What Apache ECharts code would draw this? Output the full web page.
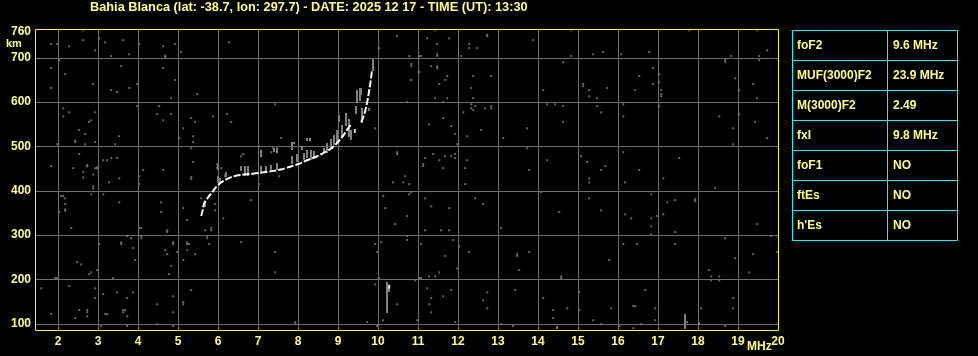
<!DOCTYPE html>
<html>
<head>
<meta charset="utf-8">
<script src="https://cdn.jsdelivr.net/npm/echarts@6/dist/echarts.min.js"></script>
<style>
html,body{margin:0;padding:0;background:#000;}
#chart{width:978px;height:356px;}
</style>
</head>
<body>
<div id="chart"></div>
<script>
// ---------- DATA ----------
const titleText = 'Bahia Blanca (lat: -38.7, lon: 297.7) - DATE: 2025 12 17 - TIME (UT): 13:30';
const xTicks = [2,3,4,5,6,7,8,9,10,11,12,13,14,15,16,17,18,19,20];
const yTicks = [100,200,300,400,500,600,700];
const yLabels = [100,200,300,400,500,600,700,760];
const xUnit = 'MHz';
const yUnit = 'km';

const tableLabels = ['foF2','MUF(3000)F2','M(3000)F2','fxI','foF1','ftEs',"h'Es"];
const tableValues = ['9.6 MHz','23.9 MHz','2.49','9.8 MHz','NO','NO','NO'];

// main ionogram trace (white), frequency MHz / virtual height km
const traceLow = [[5.58,343],[5.62,358],[5.65,371],[5.75,385],[5.83,394],[5.94,407],[6.07,418],[6.23,427],[6.4,433],[6.61,436],[6.82,438],[7.07,441],[7.32,444],[7.57,448],[7.82,455],[8.03,461],[8.23,469],[8.48,478],[8.65,486],[8.82,495],[8.98,508],[9.11,522],[9.23,538],[9.33,550]];
const traceHigh = [[9.58,555],[9.63,566],[9.68,580],[9.72,596],[9.76,615],[9.79,632],[9.82,650],[9.84,665],[9.85,672]];
const whiteDots = [[9.42,535],[10.28,184]];

// gray echo streaks near the trace [f, hLow, hHigh]
const echoStreaks = [[5.67,362,374],[6.0,418,433],[6.05,418,430],[6.0,448,459],[6.2,430,442],[6.58,444,456],[6.67,433,456],[6.75,433,456],[7.07,439,456],[7.08,478,493],[7.19,444,456],[7.32,448,459],[7.48,448,463],[7.4,489,497],[7.48,486,497],[7.86,493,510],[7.86,459,478],[7.98,463,482],[8.1,493,501],[8.15,471,486],[8.23,474,493],[8.32,471,493],[8.4,474,489],[8.23,512,519],[8.65,489,497],[8.73,486,508],[8.82,493,516],[8.9,504,527],[8.98,508,538],[9.02,557,572],[9.11,523,549],[9.19,546,576],[9.27,520,561],[9.32,516,538],[9.45,573,592],[9.55,603,633],[9.48,598,628],[9.57,617,632],[9.61,554,587],[9.78,580,587],[9.87,671,697],[7.9,505,510],[8.3,513,520]];

// noise streaks [f, hLow, hHigh]
const noiseStreaks = [[10.23,125,194],[10.28,171,185],[17.68,88,122],[18.03,98,104],[14.48,88,95]];

// scattered noise dots [f, h]
const noiseDots = [
[2.63,762],[1.83,731],[1.98,731],[2.28,726],[2.63,740],[2.93,717],[3.03,744],[3.18,735],[3.33,704],[3.63,740],[3.78,708],[4.03,731],[4.63,726],[4.68,705],[4.68,702],[4.93,731],[5.08,713],[6.28,735],
[2.03,695],[1.83,677],[2.18,663],[1.83,632],[2.88,641],[3.33,627],[3.48,623],[3.58,681],[3.78,632],[3.98,641],[4.63,677],[4.93,650],[4.83,609],[5.48,618],
[2.13,586],[2.13,568],[2.28,577],[2.53,537],[2.68,528],[2.78,555],[2.83,559],[2.93,577],[2.43,510],[2.43,513],[2.68,505],[2.93,510],[3.43,505],[3.53,523],[3.98,591],[4.48,573],[4.53,591],[4.63,559],[4.83,573],[5.03,519],[5.13,541],[5.33,564],[5.38,523],[5.38,510],[5.43,555],[5.88,568],[6.23,573],[6.33,555],[7.43,595],[7.58,519],
[1.98,505],[1.83,456],[2.53,483],[2.38,451],[2.63,442],[2.63,430],[2.73,458],[2.73,455],[2.88,437],[2.93,451],[2.98,453],[2.98,450],[2.88,410],[2.88,405],[3.13,469],[3.23,469],[3.33,474],[3.48,474],[3.53,428],[3.28,419],[4.03,433],[4.03,415],[4.13,447],[4.63,447],[5.33,496],[5.38,465],[5.33,431],[5.33,427],[5.98,460],[5.98,452],[6.08,451],[6.18,435],[6.18,432],[6.58,478],[6.63,483],[7.08,490],[7.08,483],[7.08,478],[7.38,496],[7.48,496],[7.33,487],[7.48,487],[7.03,415],[7.53,433],
[2.08,388],[2.13,388],[2.18,383],[2.18,370],[2.18,358],[2.18,355],[2.03,352],[2.83,392],[3.13,392],[3.53,374],[4.58,374],[4.58,352],[5.13,361],[5.23,334],[5.58,383],[5.68,374],[5.93,370],[5.93,356],[6.13,338],[6.83,379],[2.33,316],[4.03,316],[4.08,316],[4.73,311],[4.73,307],[5.68,311],[5.83,316],[5.83,311],
[3.03,280],[3.58,284],[3.58,280],[3.73,298],[3.83,293],[3.88,271],[3.93,244],[4.08,298],[4.08,293],[4.88,284],[4.88,280],[4.68,266],[4.73,257],[4.83,230],[4.78,212],[4.98,262],[5.13,244],[5.23,284],[5.23,280],[5.28,280],[5.23,266],[5.43,257],[5.73,298],[5.73,293],[5.78,280],[6.58,284],[7.43,262],[7.43,216],[2.48,239],[2.58,234],[2.78,212],[2.83,216],[2.98,221],[3.38,203],[1.93,203],[1.98,203],
[1.58,180],[2.28,185],[2.93,180],[2.93,158],[3.13,167],[3.48,171],[3.73,158],[3.88,171],[4.88,162],[4.48,144],[5.13,149],[5.13,144],[5.33,176],[1.83,122],[2.53,131],[2.73,131],[2.73,126],[2.73,117],[2.43,113],[3.18,122],[3.23,122],[3.63,131],[3.63,126],[3.68,131],[3.73,117],[4.88,126],[3.08,95],[3.73,95],[4.48,99],[4.88,95],
[10.48,749],[11.43,762],[11.23,744],[11.78,744],[11.48,731],[12.73,752],[12.73,749],[12.28,731],[12.28,722],[12.48,722],[13.88,740],[10.03,722],[10.78,704],[11.03,704],[11.08,704],[11.48,708],[11.48,704],[12.08,704],[10.83,686],[10.83,681],[10.83,650],[11.33,681],[11.48,681],[11.48,677],[11.03,668],[11.73,659],[11.68,650],[11.53,641],[12.38,659],[12.83,659],[12.33,632],
[11.43,609],[11.73,609],[11.63,600],[10.73,600],[12.38,609],[12.33,595],[12.43,591],[12.33,586],[12.38,582],[12.68,586],[12.83,591],[12.83,586],[12.13,577],[11.63,564],[11.83,546],[11.28,550],[11.93,528],[12.23,523],[12.58,537],[13.13,519],[13.73,541],[9.93,541],[11.98,505],[13.73,496],
[10.48,487],[10.48,483],[11.18,474],[11.38,483],[11.53,469],[11.68,478],[11.63,451],[11.83,478],[11.93,483],[11.93,474],[12.23,469],[12.18,451],[11.13,460],[11.13,456],[13.78,447],[10.68,433],[10.38,419],[10.63,419],[10.78,415],[10.83,397],[10.78,392],[12.18,415],
[10.13,388],[10.18,361],[11.18,383],[11.33,365],[11.78,361],[12.43,383],[12.63,370],[10.43,325],[10.73,343],[11.18,311],[11.58,311],[11.78,311],[13.08,316],
[10.73,298],[10.73,289],[9.93,280],[10.08,284],[9.98,262],[11.08,280],[11.88,289],[12.03,275],[12.28,262],[11.68,253],[13.48,257],[13.48,253],[13.78,262],[11.98,225],[11.53,216],[11.43,207],[11.28,207],[13.53,221],[10.03,203],[11.03,203],[11.08,203],[10.93,198],
[9.93,189],[10.48,144],[11.23,180],[11.33,158],[11.28,144],[11.33,126],[11.63,162],[11.83,176],[12.73,171],[12.63,153],[12.73,135],[13.43,176],[10.13,108],[9.73,104],[7.93,104],[7.93,99],[9.98,95],[10.98,108],[11.93,104],[13.08,99],[13.38,95],
[14.83,762],[17.78,762],[19.48,762],[15.38,708],[15.63,713],[16.08,708],[16.78,713],[14.83,704],[14.63,690],[19.73,717],[19.53,704],[19.53,695],[18.83,704],[18.68,695],[18.68,690],[16.88,677],[16.53,659],[17.03,663],[16.88,641],[17.03,645],[17.08,627],[17.08,618],[17.08,613],[16.43,627],[15.73,632],[15.13,641],[15.13,636],[15.28,627],[15.28,613],[15.48,609],[14.13,627],[18.93,654],[19.03,627],[19.38,641],[19.48,609],
[14.23,595],[14.43,595],[14.63,591],[14.63,555],[15.48,591],[15.58,577],[16.13,595],[16.13,568],[17.03,591],[18.53,568],[19.03,573],[19.43,555],[18.88,541],[19.73,519],[18.88,505],
[14.23,469],[15.08,478],[15.23,465],[15.68,456],[15.58,447],[15.28,428],[15.28,419],[16.13,487],[16.53,447],[16.18,419],[17.13,428],[17.53,474],[18.43,406],
[14.08,397],[14.53,352],[15.28,383],[15.58,356],[16.18,347],[16.33,338],[16.83,392],[16.83,338],[16.83,320],[16.83,302],[16.98,343],[17.13,347],[17.23,374],[17.43,379],[17.93,381],[17.93,377],[17.43,307],[19.48,325],[19.83,298],
[16.13,280],[16.48,280],[17.43,280],[18.68,293],[15.78,244],[18.93,248],[19.38,257],[19.28,216],[18.28,221],[18.33,207],[18.33,198],[18.53,207],[18.53,198],[19.98,262],[14.58,207],[14.58,203],
[14.13,158],[15.03,171],[14.38,131],[14.73,135],[15.03,131],[15.83,135],[16.38,140],[16.43,140],[16.68,176],[16.93,135],[14.38,113],[15.38,108],[15.58,99],[16.03,95],[16.38,90],[16.58,99],[16.93,108],[17.73,104],[18.08,135],[18.88,158],[18.88,135],[18.68,95]
];

// ---------- STYLE / LAYOUT ----------
const YEL = '#ffff80';
const FONT = '"Liberation Sans", Arial, sans-serif';
const GRID = {left: 36, top: 29, width: 742, height: 301};

const chart = echarts.init(document.getElementById('chart'), null, {renderer: 'canvas'});

function streakRender(color) {
  return function (params, api) {
    const p1 = api.coord([api.value(0), api.value(1)]);
    const p2 = api.coord([api.value(0), api.value(2)]);
    return {
      type: 'rect',
      shape: {x: Math.round(p1[0]) - 1, y: Math.round(p2[1]), width: 2, height: Math.max(2, Math.round(p1[1] - p2[1]))},
      style: {fill: color}
    };
  };
}

// table graphics
const tX0 = 792.5, tX1 = 957.5, tXc = 887.5, tY0 = 30.5, rowH = 30;
const tableEls = [];
tableEls.push({type: 'rect', shape: {x: tX0, y: tY0, width: tX1 - tX0, height: rowH * tableLabels.length}, style: {fill: 'none', stroke: '#00ffff', lineWidth: 1}});
tableEls.push({type: 'line', shape: {x1: tXc, y1: tY0, x2: tXc, y2: tY0 + rowH * tableLabels.length}, style: {stroke: '#00ffff', lineWidth: 1}});
tableLabels.forEach((lab, i) => {
  if (i > 0) tableEls.push({type: 'line', shape: {x1: tX0, y1: tY0 + rowH * i, x2: tX1, y2: tY0 + rowH * i}, style: {stroke: '#00ffff', lineWidth: 1}});
  const cy = tY0 + rowH * i + rowH / 2 + 0.5;
  tableEls.push({type: 'text', x: 797, y: cy, style: {text: lab, fill: YEL, font: 'bold 12px ' + FONT, textVerticalAlign: 'middle', verticalAlign: 'middle'}});
  tableEls.push({type: 'text', x: 893, y: cy, style: {text: tableValues[i], fill: YEL, font: 'bold 12px ' + FONT, textVerticalAlign: 'middle', verticalAlign: 'middle'}});
});

const option = {
  backgroundColor: '#000000',
  animation: false,
  title: {
    text: titleText, left: 90, top: 1, padding: 0,
    textStyle: {color: YEL, fontSize: 12.75, fontWeight: 'bold', fontFamily: FONT}
  },
  grid: Object.assign({show: false}, GRID),
  xAxis: {
    type: 'value', min: 1.45, max: 20,
    axisLine: {show: false},
    axisTick: {show: false, customValues: xTicks.slice(0, -1)},
    splitLine: {show: true, lineStyle: {color: '#6e6e6e', width: 1}},
    axisLabel: {customValues: xTicks, color: YEL, fontSize: 12, fontWeight: 'bold', fontFamily: FONT, margin: 6}
  },
  yAxis: {
    type: 'value', min: 86, max: 765,
    axisLine: {show: false},
    axisTick: {show: false, customValues: yTicks},
    splitLine: {show: true, lineStyle: {color: '#6e6e6e', width: 1}},
    axisLabel: {customValues: yLabels, color: YEL, fontSize: 12, fontWeight: 'bold', fontFamily: FONT, margin: 5}
  },
  graphic: [
    {type: 'rect', z: 100, silent: true, shape: {x: GRID.left - 0.5, y: GRID.top + 0.5, width: GRID.width + 1, height: GRID.height}, style: {fill: 'none', stroke: '#ffff00', lineWidth: 1}},
    {type: 'text', left: 6, top: 38, style: {text: yUnit, fill: YEL, font: 'bold 11px ' + FONT}},
    {type: 'text', left: 747, top: 341, style: {text: xUnit, fill: YEL, font: 'bold 12px ' + FONT}},
    {type: 'group', children: tableEls}
  ],
  series: [
    {type: 'scatter', data: noiseDots, symbol: 'rect', symbolSize: 2, itemStyle: {color: '#808080'}, silent: true, z: 2},
    {type: 'custom', data: noiseStreaks, renderItem: streakRender('#808080'), encode: {x: 0, y: [1, 2]}, silent: true, z: 2},
    {type: 'custom', data: echoStreaks, renderItem: streakRender('#808080'), encode: {x: 0, y: [1, 2]}, silent: true, z: 3},
    {type: 'line', data: traceLow, showSymbol: false, smooth: 0.3, lineStyle: {color: '#ffffff', width: 2, type: [7, 2]}, silent: true, z: 4},
    {type: 'line', data: traceHigh, showSymbol: false, smooth: 0.3, lineStyle: {color: '#ffffff', width: 2, type: [7, 2]}, silent: true, z: 4},
    {type: 'scatter', data: whiteDots, symbol: 'rect', symbolSize: [2, 4], itemStyle: {color: '#ffffff'}, silent: true, z: 5}
  ]
};
chart.setOption(option);
</script>
</body>
</html>
